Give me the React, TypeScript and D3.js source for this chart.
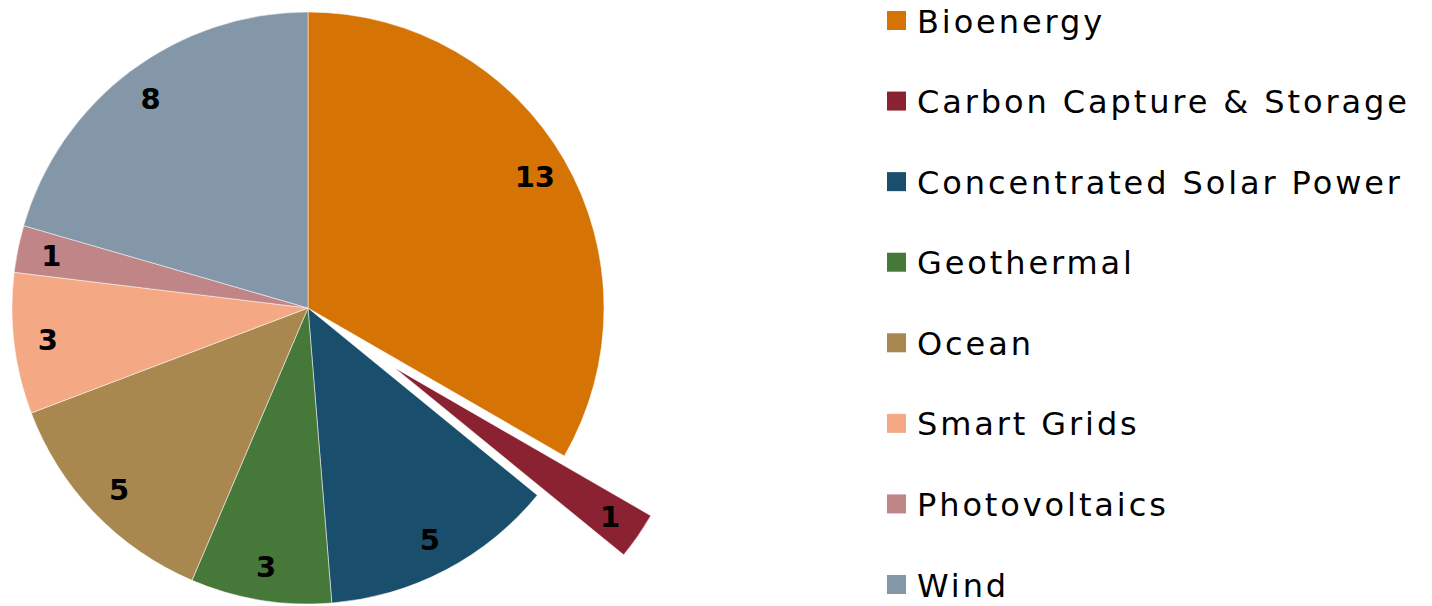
import React, { useEffect, useRef } from 'react';
import * as d3 from 'd3';

const categories = ['Bioenergy', 'Carbon Capture & Storage', 'Concentrated Solar Power', 'Geothermal', 'Ocean', 'Smart Grids', 'Photovoltaics', 'Wind'];
const values = [13, 1, 5, 3, 5, 3, 1, 8];
const colors = ['#d67305', '#8b2231', '#194e6c', '#46783a', '#a9884f', '#f4a984', '#c08586', '#8497a8'];
const exploded = ['Carbon Capture & Storage'];

const width = 1432;
const height = 606;

export default function App() {
  const ref = useRef<SVGSVGElement>(null);

  useEffect(() => {
    const svg = d3.select(ref.current);
    svg.selectAll('*').remove();

    const cx = 308;
    const cy = 308;
    const r = 296;
    const explodeBy = 105;

    const data = categories.map((c, i) => ({ name: c, value: values[i], color: colors[i] }));
    const pie = d3.pie<any>().sort(null).value((d) => d.value);
    const arc = d3.arc<any>().innerRadius(0).outerRadius(r);
    const labelArc = d3.arc<any>().innerRadius(r * 0.885).outerRadius(r * 0.885);
    const arcs = pie(data);

    const g = svg.append('g').attr('transform', 'translate(' + cx + ',' + cy + ')');

    const slice = g.selectAll('g.slice')
      .data(arcs)
      .enter().append('g')
      .attr('class', 'slice')
      .attr('transform', (d) => {
        if (exploded.indexOf(d.data.name) < 0) return null;
        const mid = (d.startAngle + d.endAngle) / 2;
        return 'translate(' + Math.sin(mid) * explodeBy + ',' + (-Math.cos(mid) * explodeBy) + ')';
      });

    slice.append('path')
      .attr('d', arc)
      .attr('fill', (d) => d.data.color)
      .attr('stroke', '#ffffff')
      .attr('stroke-width', 0.5);

    slice.append('text')
      .attr('transform', (d) => 'translate(' + labelArc.centroid(d) + ')')
      .attr('text-anchor', 'middle')
      .attr('dy', '0.36em')
      .attr('font-family', 'DejaVu Sans, Verdana, sans-serif')
      .attr('font-weight', 'bold')
      .attr('font-size', 29)
      .attr('fill', '#000')
      .text((d) => d.data.value);

    // legend
    const legendY = d3.scalePoint<string>()
      .domain(categories)
      .range([21, 585]);

    const legend = svg.append('g')
      .selectAll('g')
      .data(data)
      .enter().append('g')
      .attr('transform', (d) => 'translate(887,' + legendY(d.name) + ')');

    legend.append('rect')
      .attr('x', 0)
      .attr('y', -10)
      .attr('width', 19)
      .attr('height', 19)
      .attr('fill', (d) => d.color);

    legend.append('text')
      .attr('x', 30)
      .attr('dy', '0.36em')
      .attr('font-family', 'DejaVu Sans, Verdana, sans-serif')
      .attr('font-size', 32)
      .attr('letter-spacing', 2.9)
      .attr('fill', '#000')
      .text((d) => d.name);
  }, []);

  return (
    <svg ref={ref} width={width} height={height} style={{ position: 'absolute', left: 0, top: 0 }} />
  );
}
